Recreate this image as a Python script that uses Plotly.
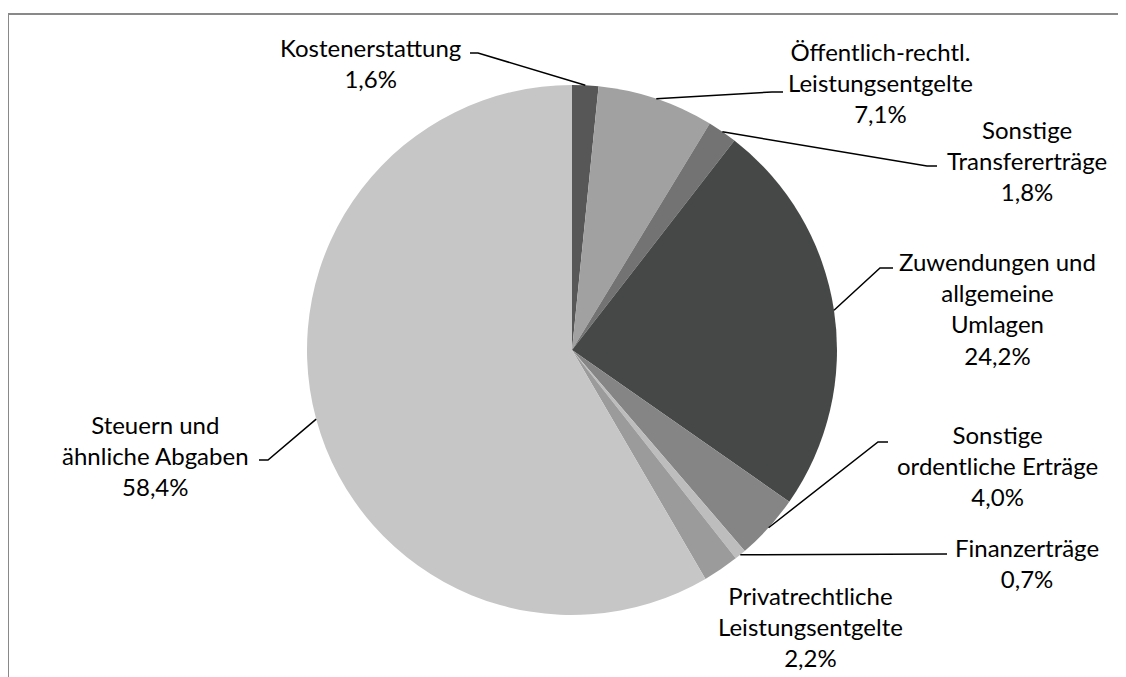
import math
import plotly.graph_objects as go

# ---- data ----
categories = [
    "Kostenerstattung",
    "Öffentlich-rechtl. Leistungsentgelte",
    "Sonstige Transfererträge",
    "Zuwendungen und allgemeine Umlagen",
    "Sonstige ordentliche Erträge",
    "Finanzerträge",
    "Privatrechtliche Leistungsentgelte",
    "Steuern und ähnliche Abgaben",
]
values = [1.6, 7.1, 1.8, 24.2, 4.0, 0.7, 2.2, 58.4]
label_lines = [
    ["Kostenerstattung"],
    ["Öffentlich-rechtl.", "Leistungsentgelte"],
    ["Sonstige", "Transfererträge"],
    ["Zuwendungen und", "allgemeine", "Umlagen"],
    ["Sonstige", "ordentliche Erträge"],
    ["Finanzerträge"],
    ["Privatrechtliche", "Leistungsentgelte"],
    ["Steuern und", "ähnliche Abgaben"],
]
colors = ["#575757", "#A1A1A1", "#737373", "#464847",
          "#858585", "#BDBDBD", "#9B9B9B", "#C6C6C6"]

# ---- layout geometry (screen pixels; page body has an 8px margin) ----
OFF = 8
W, H = 1126 - OFF, 677 - OFF
CX, CY, R = 572, 350, 265
FONT = "Lato, Calibri, Carlito, sans-serif"
FS = 24

# label block centres and leader elbows (screen pixel positions, layout only)
label_pos = [(370, 63), (880, 82), (1027, 160), (997, 308),
             (997, 465), (1027, 563), (810, 626), (155, 455)]
elbows = [[(478, 53), (470, 53)],
          [(772, 92), (783, 92)],
          [(927, 166), (937, 166)],
          [(880, 268), (893, 268)],
          [(878, 442), (888, 442)],
          [(947, 554)],
          None,
          [(268, 460), (259, 460)]]


def px(x):
    return (x - OFF) / W


def py(y):
    return 1 - (y - OFF) / H


fig = go.Figure()
fig.add_trace(go.Pie(
    labels=categories, values=values, sort=False, direction="clockwise",
    rotation=0, textinfo="none", hoverinfo="label+percent",
    marker=dict(colors=colors, line=dict(width=0)),
    domain=dict(x=[px(CX - R), px(CX + R)], y=[py(CY + R), py(CY - R)]),
    showlegend=False,
))

total = sum(values)
shapes = []
annotations = []
cum = 0.0
for i, v in enumerate(values):
    mid = (cum + v / 2) / total * 2 * math.pi
    cum += v
    ax = CX + R * math.sin(mid)
    ay = CY - R * math.cos(mid)
    pct = f"{v / total * 100:.1f}".replace(".", ",") + "%"
    text = "<br>".join(label_lines[i] + [pct])
    lx, ly = label_pos[i]
    annotations.append(dict(
        x=px(lx), y=py(ly), xref="paper", yref="paper", text=text,
        showarrow=False, xanchor="center", yanchor="middle", align="center",
        font=dict(family=FONT, size=FS, color="#000000"),
    ))
    if elbows[i]:
        pts = [(ax, ay)] + elbows[i]
        path = "M " + " L ".join(f"{px(x)},{py(y)}" for x, y in pts)
        shapes.append(dict(type="path", path=path, xref="paper", yref="paper",
                           line=dict(color="#000000", width=1.5)))

# chart frame (partially visible)
shapes.append(dict(type="line", xref="paper", yref="paper",
                   x0=px(8), y0=py(14), x1=1.01, y1=py(14),
                   line=dict(color="#898989", width=2)))
shapes.append(dict(type="line", xref="paper", yref="paper",
                   x0=px(8), y0=py(14), x1=px(8), y1=-0.01,
                   line=dict(color="#898989", width=2)))

fig.update_layout(
    width=W, height=H, margin=dict(l=0, r=0, t=0, b=0),
    paper_bgcolor="#FFFFFF", plot_bgcolor="#FFFFFF",
    shapes=shapes, annotations=annotations,
    font=dict(family=FONT),
)

fig.write_html("out.html")
